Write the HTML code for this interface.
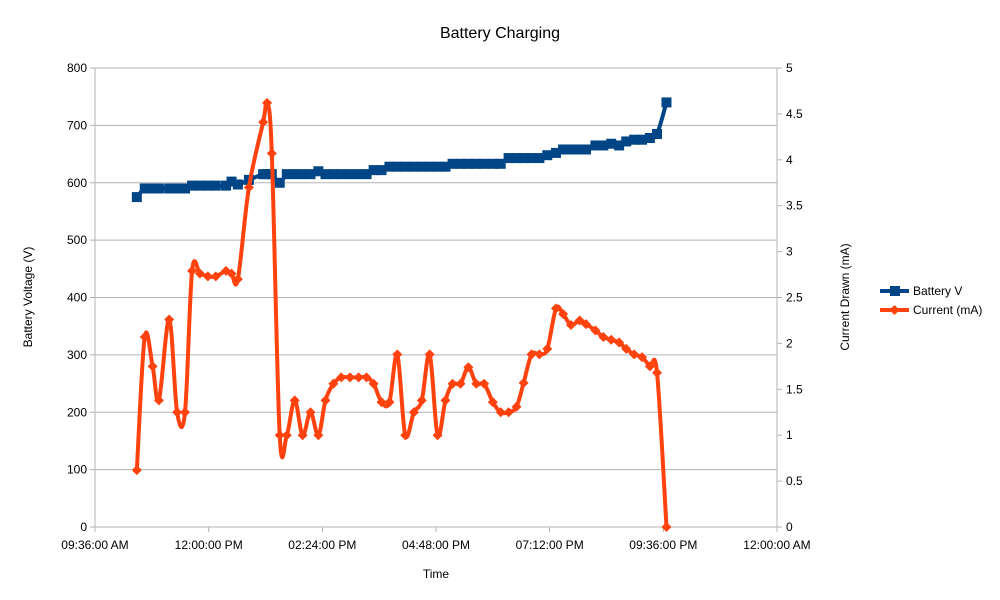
<!DOCTYPE html>
<html><head><meta charset="utf-8"><style>
body{margin:0;background:#fff;}
svg{font-family:"Liberation Sans",sans-serif;display:block}
</style></head><body>
<svg id="c" width="1000" height="600" xmlns="http://www.w3.org/2000/svg">
<rect width="1000" height="600" fill="#fff"/>
<text x="500" y="38" text-anchor="middle" font-size="16" fill="#000">Battery Charging</text>
<g id="grid"></g>
<g id="axes"></g>
<g id="series"></g>
<text x="436" y="578" text-anchor="middle" font-size="12">Time</text>
<text transform="translate(32,297) rotate(-90)" text-anchor="middle" font-size="12">Battery Voltage (V)</text>
<text transform="translate(849,297) rotate(-90)" text-anchor="middle" font-size="12">Current Drawn (mA)</text>
<g>
<g>
<line x1="880" y1="291" x2="909" y2="291" stroke="#004586" stroke-width="4"/>
<rect x="890" y="286" width="10" height="10" fill="#004586"/>
<text x="913" y="295" font-size="12">Battery V</text></g>
<g>
<line x1="880" y1="310" x2="909" y2="310" stroke="#ff420e" stroke-width="4"/>
<path d="M894.5 305 L899.5 310 L894.5 315 L889.5 310Z" fill="#ff420e"/>
<text x="913" y="314" font-size="12">Current (mA)</text></g>
</g>
</svg>
<script>
const times=[629,639,649,657,670,680,690,699,709,719,729,742,749,757,771,789,794,800,810,819,829,839,849,859,868,878,888,899,910,920,929,939,949,959,969,980,990,1000,1010,1020,1029,1039,1049,1059,1069,1080,1090,1100,1110,1119,1129,1139,1149,1160,1169,1179,1190,1198,1210,1220,1230,1240,1249,1259,1269,1279,1288,1300];
const voltage=[575,590,590,590,590,590,590,595,595,595,595,595,602,597,605,615,615,615,600,615,615,615,615,620,615,615,615,615,615,615,622,622,628,628,628,628,628,628,628,628,633,633,633,633,633,633,633,643,643,643,643,643,648,652,658,658,658,658,665,665,668,665,672,675,675,678,685,740];
const current=[0.62,2.07,1.75,1.38,2.26,1.25,1.25,2.79,2.76,2.73,2.73,2.79,2.76,2.7,3.7,4.41,4.62,4.07,1.0,1.0,1.38,1.0,1.25,1.0,1.38,1.56,1.63,1.63,1.63,1.63,1.56,1.36,1.36,1.88,1.0,1.25,1.38,1.88,1.0,1.38,1.56,1.56,1.74,1.56,1.56,1.36,1.25,1.25,1.31,1.57,1.88,1.88,1.94,2.38,2.32,2.2,2.25,2.21,2.14,2.07,2.04,2.01,1.94,1.88,1.85,1.75,1.68,0];
const leftTicks=[0,100,200,300,400,500,600,700,800];
const rightTicks=["0","0.5","1","1.5","2","2.5","3","3.5","4","4.5","5"];
const xTickLabels=["09:36:00 AM","12:00:00 PM","02:24:00 PM","04:48:00 PM","07:12:00 PM","09:36:00 PM","12:00:00 AM"];
const X0=95,X1=777,Y0=527,Y1=68,T0=576,T1=1440;
const sx=t=>X0+(t-T0)/(T1-T0)*(X1-X0);
const sy=v=>Y0-v/800*(Y0-Y1);
const sy2=v=>Y0-v/5*(Y0-Y1);
const NS="http://www.w3.org/2000/svg";
function mk(tag,at,parent){const e=document.createElementNS(NS,tag);for(const k in at)e.setAttribute(k,at[k]);parent.appendChild(e);return e;}
const grid=document.getElementById('grid'),axes=document.getElementById('axes'),ser=document.getElementById('series');
leftTicks.forEach(v=>{const y=sy(v);
 const g=mk('line',{x1:X0-5,x2:X1,y1:y,y2:y,stroke:'#b3b3b3','stroke-width':1},grid);
 
 
 const t=mk('text',{x:X0-8,y:y+4,'text-anchor':'end','font-size':12},axes);t.textContent=v;
 
 });
rightTicks.forEach(s=>{const y=sy2(parseFloat(s));
 mk('line',{x1:X1,x2:X1+5,y1:y,y2:y,stroke:'#b3b3b3'},axes);
 const t=mk('text',{x:X1+9,y:y+4,'font-size':12},axes);t.textContent=s;
 
 });
mk('line',{x1:X0,x2:X0,y1:Y1,y2:Y0+5,stroke:'#b3b3b3'},axes);
mk('line',{x1:X1,x2:X1,y1:Y1,y2:Y0,stroke:'#b3b3b3'},axes);
xTickLabels.forEach((s,i)=>{const x=sx(T0+i*(T1-T0)/(xTickLabels.length-1));
 mk('line',{x1:x,x2:x,y1:Y0,y2:Y0+5,stroke:'#b3b3b3'},axes);
 const t=mk('text',{x:x,y:Y0+22,'text-anchor':'middle','font-size':12},axes);t.textContent=s;
 
 });
function smooth(pts){let d=`M${pts[0][0]},${pts[0][1]}`;
 for(let i=0;i<pts.length-1;i++){const p0=pts[i-1]||pts[i],p1=pts[i],p2=pts[i+1],p3=pts[i+2]||p2;
  d+=` C${p1[0]+(p2[0]-p0[0])/6},${p1[1]+(p2[1]-p0[1])/6} ${p2[0]-(p3[0]-p1[0])/6},${p2[1]-(p3[1]-p1[1])/6} ${p2[0]},${p2[1]}`;}
 return d;}
const vp=times.map((t,i)=>[sx(t),sy(voltage[i])]);
const cp=times.map((t,i)=>[sx(t),sy2(current[i])]);
const vl=mk('path',{d:smooth(vp),fill:'none',stroke:'#004586','stroke-width':4,'stroke-linejoin':'round'},ser);


vp.forEach(p=>{const r=mk('rect',{x:p[0]-5,y:p[1]-5,width:10,height:10,fill:'#004586'},ser);
 
 });
const cl=mk('path',{d:smooth(cp),fill:'none',stroke:'#ff420e','stroke-width':4,'stroke-linejoin':'round'},ser);


cp.forEach(p=>{const r=mk('path',{d:`M${p[0]} ${p[1]-5}L${p[0]+5} ${p[1]}L${p[0]} ${p[1]+5}L${p[0]-5} ${p[1]}Z`,fill:'#ff420e'},ser);
 
 });
</script>
</body></html>
